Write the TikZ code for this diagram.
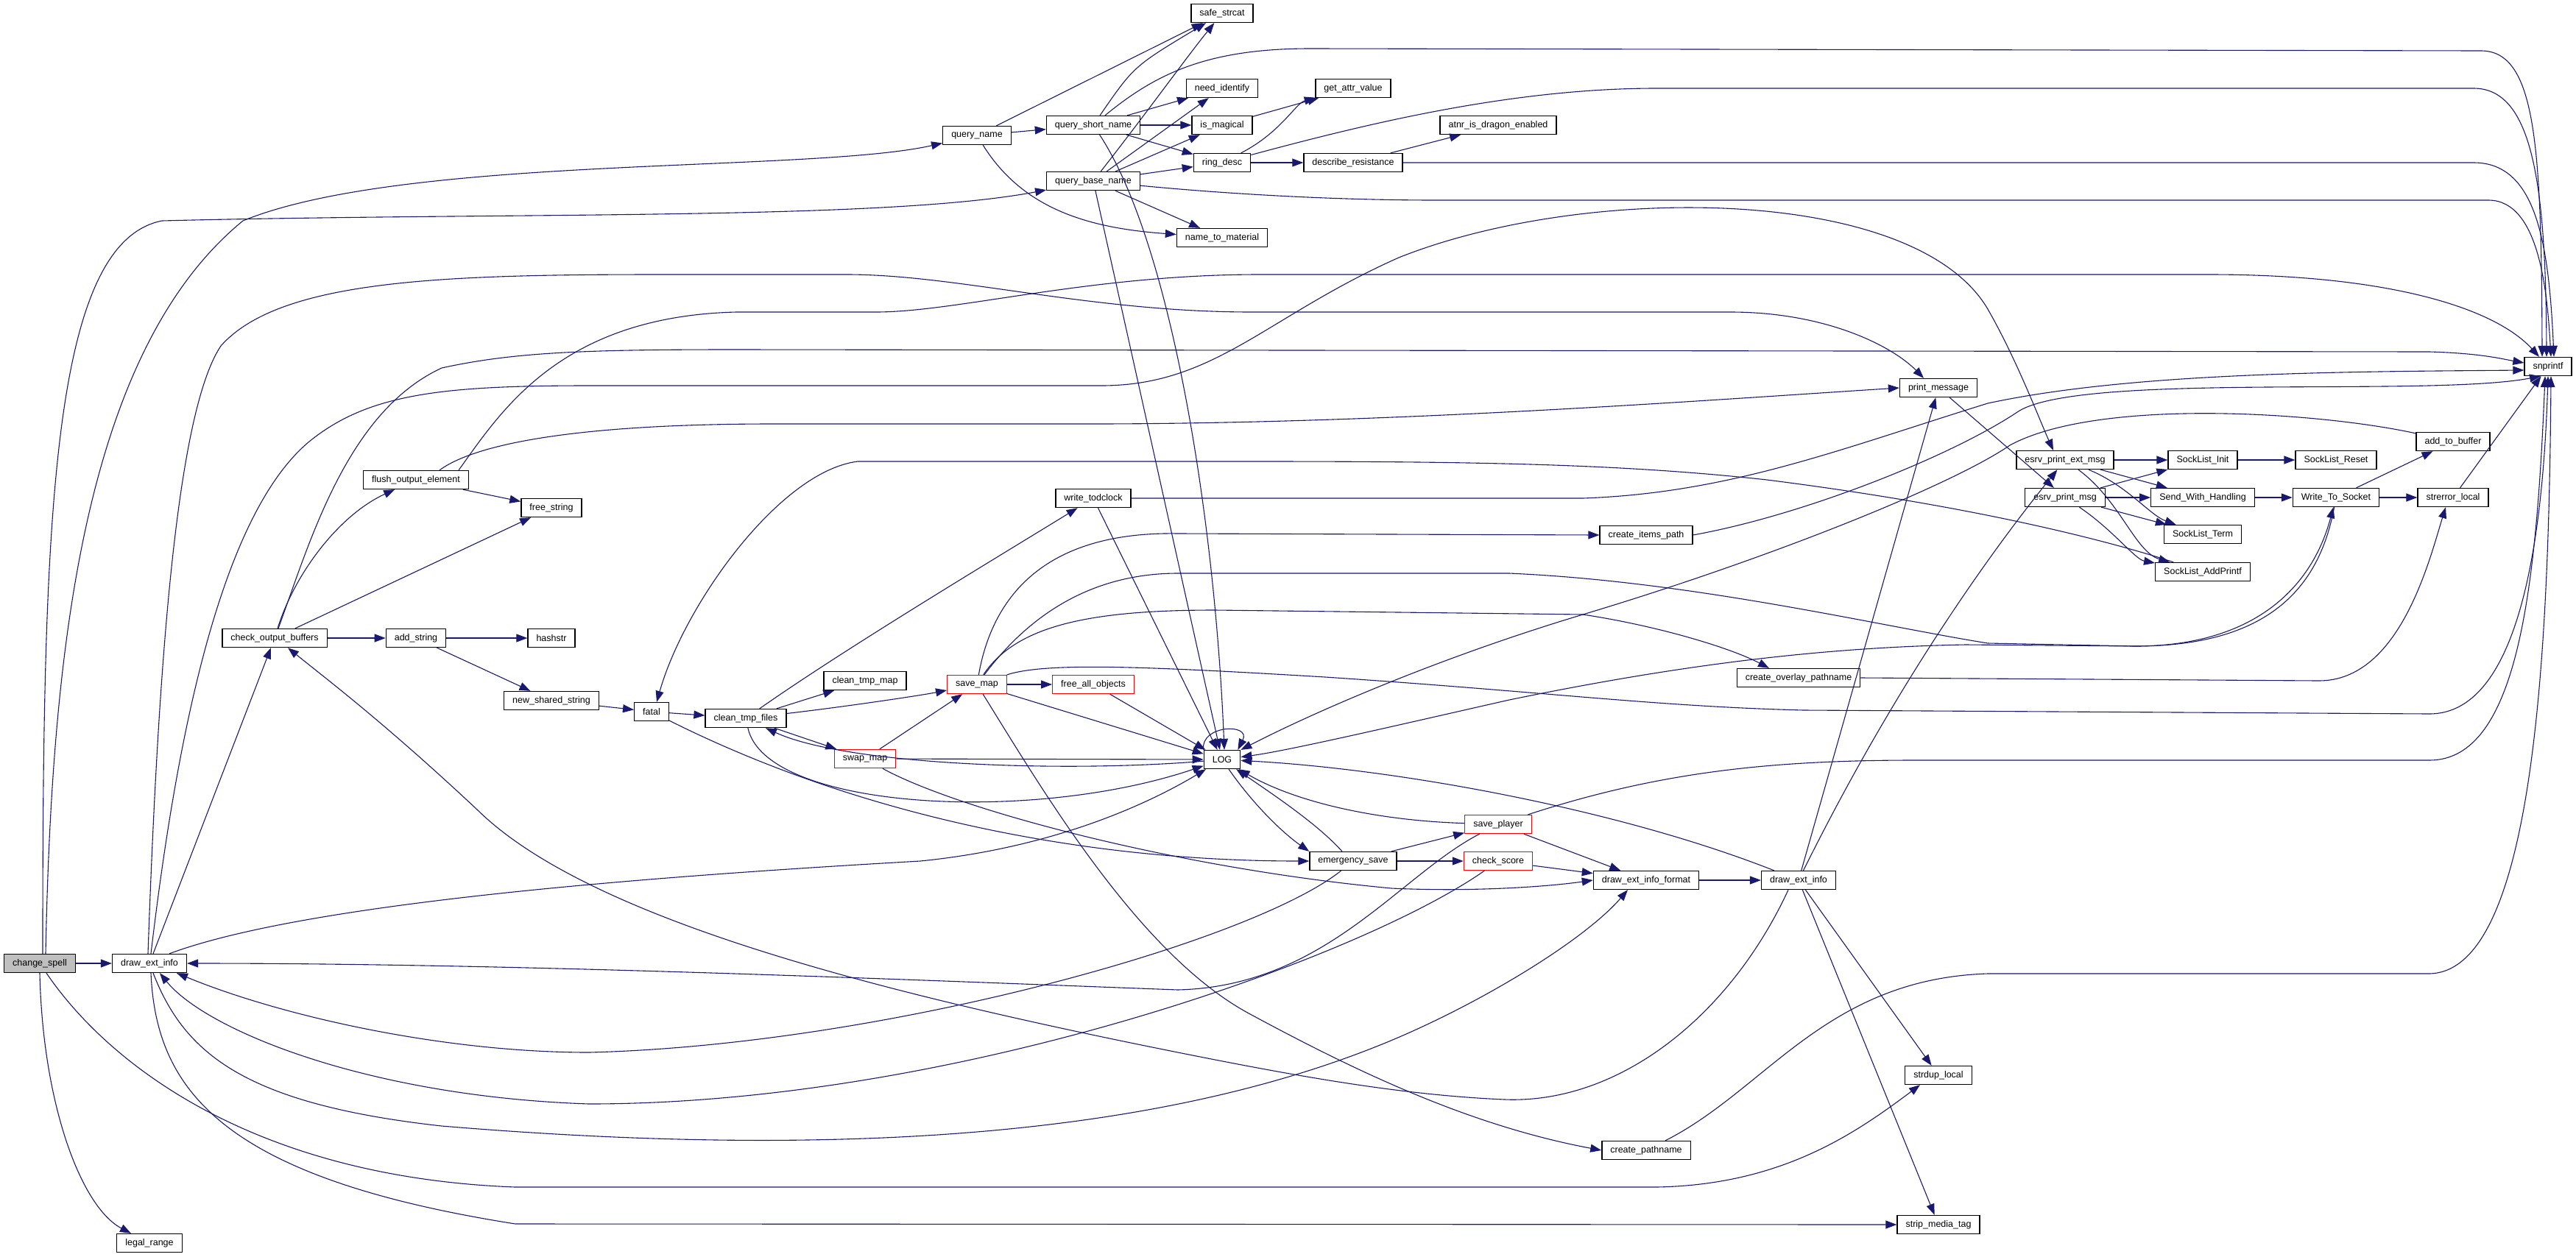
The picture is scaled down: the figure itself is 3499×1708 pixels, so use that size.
\documentclass[tikz,border=0pt]{standalone}
\usepackage{fontspec}
\setmainfont{Liberation Sans}
\usetikzlibrary{arrows.meta}
\definecolor{edgeblue}{HTML}{191970}
\definecolor{nodered}{HTML}{FF0000}
\tikzset{>={Triangle[length=15pt,width=11pt]}}
\tikzset{
  fn/.style={draw=black, fill=white, line width=1.3pt, inner xsep=11.5pt, inner ysep=0pt,
    minimum height=25pt, font=\fontsize{12.5}{14}\selectfont},
  fnred/.style={fn, draw=nodered},
  fnroot/.style={fn, fill=black!25},
  call/.style={->, draw=edgeblue, line width=1.1pt}
}
\begin{document}
\begin{tikzpicture}[x=1pt,y=-1pt]
\useasboundingbox (0,0) rectangle (3499,1708);

\node[fnroot] (cs)   at (54,1309)   {change\_spell};
\node[fn]     (deia) at (203,1309)  {draw\_ext\_info};
\node[fn]     (lr)   at (203,1689)  {legal\_range};
\node[fn]     (cob)  at (373,867)   {check\_output\_buffers};
\node[fn]     (foe)  at (565,652)   {flush\_output\_element};
\node[fn]     (as)   at (565,867)   {add\_string};
\node[fn]     (fs)   at (749,690)   {free\_string};
\node[fn]     (hs)   at (749,867)   {hashstr};
\node[fn]     (nss)  at (749,952)   {new\_shared\_string};
\node[fn]     (fatal) at (885,967)  {fatal};
\node[fn]     (ctf)  at (1013,976)  {clean\_tmp\_files};
\node[fn]     (ctm)  at (1175,925)  {clean\_tmp\_map};
\node[fnred]  (swm)  at (1175,1031) {swap\_map};
\node[fnred]  (svm)  at (1327,930)  {save\_map};
\node[fn]     (qn)   at (1327,184)  {query\_name};
\node[fn]     (qsn)  at (1485,170)  {query\_short\_name};
\node[fn]     (qbn)  at (1485,246)  {query\_base\_name};
\node[fn]     (wtc)  at (1485,677)  {write\_todclock};
\node[fnred]  (fao)  at (1485,930)  {free\_all\_objects};
\node[fn]     (ss)   at (1660,18)   {safe\_strcat};
\node[fn]     (ni)   at (1660,120)  {need\_identify};
\node[fn]     (im)   at (1660,170)  {is\_magical};
\node[fn]     (rd)   at (1660,221)  {ring\_desc};
\node[fn]     (ntm)  at (1660,323)  {name\_to\_material};
\node[fn]     (log)  at (1660,1032) {LOG};
\node[fn]     (gav)  at (1838,120)  {get\_attr\_value};
\node[fn]     (dr)   at (1838,221)  {describe\_resistance};
\node[fn]     (es)   at (1838,1170) {emergency\_save};
\node[fn]     (atnr) at (2035,170)  {atnr\_is\_dragon\_enabled};
\node[fnred]  (sp)   at (2035,1120) {save\_player};
\node[fnred]  (csc)  at (2035,1170) {check\_score};
\node[fn]     (cip)  at (2236,727)  {create\_items\_path};
\node[fn]     (deif) at (2236,1196) {draw\_ext\_info\_format};
\node[fn]     (cp)   at (2236,1563) {create\_pathname};
\node[fn]     (deib) at (2443,1196) {draw\_ext\_info};
\node[fn]     (cop)  at (2443,921)  {create\_overlay\_pathname};
\node[fn]     (pm)   at (2633,527)  {print\_message};
\node[fn]     (sdl)  at (2633,1461) {strdup\_local};
\node[fn]     (smt)  at (2633,1664) {strip\_media\_tag};
\node[fn]     (epe)  at (2805,625)  {esrv\_print\_ext\_msg};
\node[fn]     (epm)  at (2805,676)  {esrv\_print\_msg};
\node[fn]     (sli)  at (2992,625)  {SockList\_Init};
\node[fn]     (swh)  at (2992,676)  {Send\_With\_Handling};
\node[fn]     (slt)  at (2992,726)  {SockList\_Term};
\node[fn]     (sla)  at (2992,777)  {SockList\_AddPrintf};
\node[fn]     (slr)  at (3173,625)  {SockList\_Reset};
\node[fn]     (wts)  at (3173,676)  {Write\_To\_Socket};
\node[fn]     (atb)  at (3332,600)  {add\_to\_buffer};
\node[fn]     (sel)  at (3332,676)  {strerror\_local};
\node[fn]     (snp)  at (3461,498)  {snprintf};

% change_spell
\draw[call] (cs) -- (deia);
\draw[call] (cs.south) .. controls (58,1500) and (110,1640) .. ([xshift=-25pt]lr.north);
\draw[call] ([xshift=8pt]cs.north) .. controls (70,900) and (110,480) .. (330,300) .. controls (550,210) and (1100,235) .. (qn);
\draw[call] ([xshift=4pt]cs.north) .. controls (58,700) and (70,330) .. (220,300) .. controls (700,288) and (1200,300) .. (qbn);
\draw[call] ([xshift=9pt]cs.south) .. controls (150,1450) and (350,1600) .. (700,1613) -- (2250,1613) .. controls (2420,1610) and (2520,1540) .. ([xshift=-25pt]sdl.south);

% query names
\draw[call] (qn) -- (qsn);
\draw[call] (qn) -- (ss);
\draw[call] (qn) .. controls (1390,285) and (1480,310) .. (ntm);
\draw[call] (qsn) .. controls (1540,90) .. (ss);
\draw[call] (qsn) -- (ni);
\draw[call] (qsn) -- (im);
\draw[call] (qsn) -- (rd);
\draw[call] (qsn) .. controls (1570,100) and (1640,66) .. (1780,66) -- (3370,69) .. controls (3445,69) and (3452,200) .. ([xshift=-8pt]snp.north);
\draw[call] (qsn) .. controls (1590,330) and (1650,700) .. ([xshift=3pt]log.north);
\draw[call] (qbn) .. controls (1560,150) and (1610,80) .. (ss);
\draw[call] (qbn) -- (ni);
\draw[call] (qbn) -- (im);
\draw[call] (qbn) -- (rd);
\draw[call] (qbn) -- (ntm);
\draw[call] (qbn) .. controls (1650,262) and (1800,272) .. (1950,272) -- (3380,272) .. controls (3450,272) and (3460,400) .. ([xshift=4pt]snp.north);
\draw[call] (qbn) -- ([xshift=-3pt]log.north);
\draw[call] (im) -- (gav);
\draw[call] (rd) .. controls (1740,180) and (1760,140) .. (gav);
\draw[call] (rd) -- (dr);
\draw[call] (rd) .. controls (1850,170) and (2050,120) .. (2250,120) -- (3360,120) .. controls (3440,120) and (3458,250) .. ([xshift=-2pt]snp.north);
\draw[call] (dr) -- (atnr);
\draw[call] (dr) -- (3360,221) .. controls (3445,221) and (3462,330) .. ([xshift=8pt]snp.north);

% output buffers
\draw[call] (deia) -- (cob);
\draw[call] (cob) .. controls (400,780) and (460,700) .. (foe);
\draw[call] (cob) -- (as);
\draw[call] (cob) -- (fs);
\draw[call] (foe) -- (fs);
\draw[call] (as) -- (hs);
\draw[call] (as) -- (nss);
\draw[call] (nss) -- (fatal);
\draw[call] ([xshift=5pt]cob.north) .. controls (420,740) and (470,560) .. (600,500) .. controls (700,478) and (800,475) .. (1000,475) -- (3300,478) .. controls (3370,480) and (3400,488) .. ([yshift=5pt]snp.west);
\draw[call] ([xshift=58pt]foe.north) .. controls (680,560) and (760,430) .. (1000,424) -- (1190,424) .. controls (1300,424) and (1480,373) .. (1711,373) -- (3000,373) .. controls (3250,373) and (3390,420) .. ([xshift=-12pt]snp.north);
\draw[call] ([xshift=32pt]foe.north) .. controls (650,600) and (800,576) .. (1050,576) -- (1496,576) .. controls (1900,575) and (2300,545) .. (pm.west);
\draw[call] ([xshift=-2pt]deia.north) .. controls (215,900) and (240,560) .. (300,470) .. controls (380,380) and (600,373) .. (900,373) -- (1150,373) .. controls (1300,373) and (1480,424) .. (1700,424) -- (2350,424) .. controls (2480,424) and (2570,470) .. ([xshift=-20pt]pm.north);
\draw[call] ([xshift=2pt]deia.north) .. controls (240,1000) and (300,700) .. (420,600) .. controls (500,535) and (600,524) .. (800,524) -- (1496,524) .. controls (1650,524) and (1720,430) .. (1900,350) .. controls (2150,250) and (2600,250) .. (2700,420) .. controls (2740,490) and (2770,570) .. ([xshift=-16pt]epe.north);

% fatal and temp files
\draw[call] (fatal) -- (ctf);
\draw[call] (fatal) .. controls (1150,1100) and (1450,1170) .. (es);
\draw[call] (sla) .. controls (2880,740) and (2700,690) .. (2400,652) .. controls (2200,630) and (2000,627) .. (1700,627) -- (1165,627) .. controls (1060,640) and (930,820) .. ([xshift=7pt]fatal.north);
\draw[call] (ctf) -- (ctm);
\draw[call] (ctf) .. controls (1150,960) and (1250,945) .. (svm);
\draw[call] (ctf) -- (swm);
\draw[call] (ctf) .. controls (1150,880) and (1350,760) .. (wtc);
\draw[call] (ctf) .. controls (1040,1100) and (1400,1120) .. (log);
\draw[call] (log) .. controls (1450,1050) and (1150,1040) .. ([xshift=27pt]ctf.south);
\draw[call] (swm) -- (svm);
\draw[call] (swm) -- (log);
\draw[call] (swm) .. controls (1300,1100) and (1600,1180) .. (1890,1207) .. controls (2000,1212) and (2100,1205) .. (deif.west);
\draw[call] (svm) -- (fao);
\draw[call] (svm) -- (log);
\draw[call] (fao) -- (log);
\draw[call] (svm) .. controls (1420,1080) and (1550,1300) .. (1700,1379) .. controls (1850,1460) and (2000,1530) .. (cp.west);
\draw[call] (svm) .. controls (1350,800) and (1430,722) .. (1600,725) -- (cip.west);
\draw[call] (svm) .. controls (1380,850) and (1480,829) .. (1650,829) -- (2150,835) .. controls (2250,850) and (2350,880) .. ([xshift=-40pt]cop.north);
\draw[call] (svm) .. controls (1380,860) and (1460,779) .. (1600,779) -- (2050,779) .. controls (2300,790) and (2550,850) .. (2700,874) -- (2900,878) .. controls (3060,878) and (3140,800) .. (wts);
\draw[call] (svm) .. controls (1420,900) and (1550,905) .. (1800,920) .. controls (2100,940) and (2250,960) .. (2450,965) -- (3300,970) .. controls (3430,970) and (3455,700) .. (snp.south);
\draw[call] (wtc.east) -- (2150,677) .. controls (2350,670) and (2500,610) .. (2700,548) .. controls (2900,505) and (3200,505) .. ([yshift=-5pt]snp.west);
\draw[call] (wtc) -- (log);
\draw[call] (log.north west) .. controls (1630,985) and (1700,982) .. ([xshift=-4pt]log.north east);

% save and score
\draw[call] (es) -- (sp);
\draw[call] (es) -- (csc);
\draw[call] ([xshift=-15pt]es.north) .. controls (1790,1120) and (1730,1080) .. (log);
\draw[call] (log) .. controls (1700,1090) and (1740,1130) .. (es.north west);
\draw[call] (es) .. controls (1700,1280) and (1200,1420) .. (800,1430) .. controls (600,1430) and (380,1380) .. ([xshift=37pt]deia.south);
\draw[call] (csc) .. controls (1850,1300) and (1300,1500) .. (800,1500) .. controls (500,1490) and (280,1400) .. ([xshift=14pt]deia.south);
\draw[call] (sp) -- (deif);
\draw[call] (csc) -- (deif);
\draw[call] (deif) -- (deib);
\draw[call] (sp) .. controls (1870,1115) and (1760,1090) .. (log);
\draw[call] (sp) .. controls (1900,1190) and (1800,1340) .. (1600,1345) .. controls (1200,1330) and (700,1309) .. (deia.east);
\draw[call] (sp) .. controls (2250,1050) and (2400,1033) .. (2600,1033) -- (3300,1033) .. controls (3420,1033) and (3445,800) .. ([xshift=-4pt]snp.south);
\draw[call] ([xshift=27pt]deia.north) .. controls (420,1225) and (900,1190) .. (1250,1170) .. controls (1450,1150) and (1580,1080) .. (log);
\draw[call] ([xshift=5pt]deia.south) .. controls (250,1430) and (330,1500) .. (600,1530) .. controls (1200,1580) and (1600,1530) .. (1872,1421) .. controls (2000,1370) and (2150,1280) .. ([xshift=-25pt]deif.south);
\draw[call] ([xshift=2pt]deia.south) .. controls (212,1480) and (300,1600) .. (700,1663) -- (smt.west);

% draw_ext_info
\draw[call] (deib) -- (pm);
\draw[call] (deib) .. controls (2560,960) and (2680,780) .. (epe);
\draw[call] (deib) -- (sdl);
\draw[call] (deib) -- (smt);
\draw[call] (deib) .. controls (2200,1100) and (1900,1045) .. (log);
\draw[call] ([xshift=-14pt]deib.south) .. controls (2350,1380) and (2200,1500) .. (2044,1494) .. controls (1900,1488) and (1750,1460) .. (1600,1430) .. controls (1200,1350) and (800,1250) .. (648,1100) .. controls (520,980) and (440,920) .. ([xshift=18pt]cob.south);
\draw[call] (cp) .. controls (2400,1480) and (2480,1330) .. (2700,1323) -- (3300,1323) .. controls (3440,1320) and (3462,900) .. ([xshift=4pt]snp.south);
\draw[call] (cip.east) .. controls (2450,700) and (2650,620) .. (2740,560) .. controls (2820,505) and (3300,540) .. ([xshift=-10pt]snp.south);
\draw[call] (cop.east) -- (3150,925) .. controls (3260,925) and (3300,760) .. ([xshift=-10pt]sel.south);

% socket layer
\draw[call] (pm) -- (epm);
\draw[call] (epe) -- (sli);
\draw[call] (epe) -- (swh);
\draw[call] (epe) .. controls (2890,660) and (2920,700) .. (slt);
\draw[call] (epe) .. controls (2880,680) and (2900,750) .. (sla);
\draw[call] (epm) -- (sli);
\draw[call] (epm) -- (swh);
\draw[call] (epm) -- (slt);
\draw[call] (epm) .. controls (2870,720) and (2900,760) .. (sla);
\draw[call] (sli) -- (slr);
\draw[call] (swh) -- (wts);
\draw[call] (wts) -- (atb);
\draw[call] (wts) -- (sel);
\draw[call] (sel) -- (snp);
\draw[call] (atb) .. controls (3150,560) and (2850,540) .. (2730,605) .. controls (2650,660) and (2400,760) .. (2150,835) .. controls (1950,895) and (1780,970) .. (log);
\draw[call] (wts) .. controls (3150,800) and (3080,878) .. (2900,878) -- (2670,876) .. controls (2450,880) and (2250,910) .. (2050,951) .. controls (1900,985) and (1750,1020) .. (log);
\end{tikzpicture}
\end{document}
